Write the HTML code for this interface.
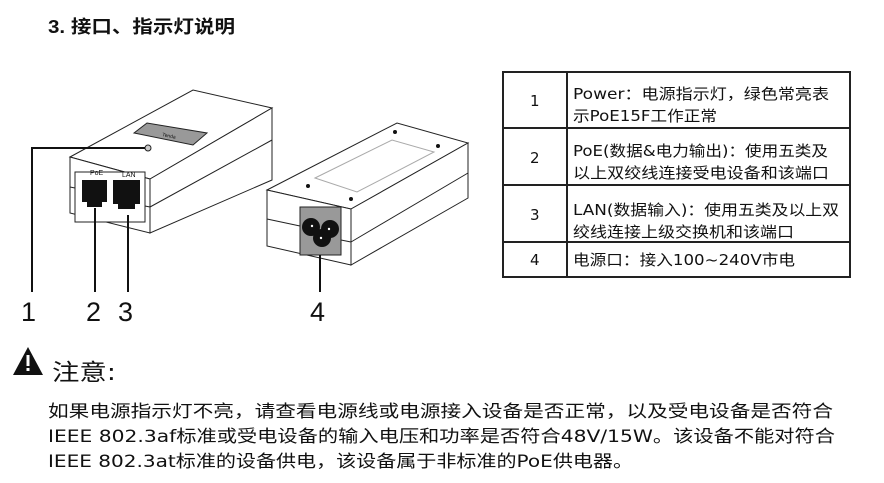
<!DOCTYPE html>
<html><head><meta charset="utf-8"><style>
html,body{margin:0;padding:0;background:#fff;}
svg{display:block;}
text{font-family:"Liberation Sans","Noto Sans CJK SC",sans-serif;fill:#111;}
.t{font-family:"DejaVu Sans","Noto Sans CJK SC",sans-serif;}
</style></head><body>
<svg width="884" height="483" viewBox="0 0 884 483" xmlns="http://www.w3.org/2000/svg">
<text x="48" y="33" font-size="18" font-weight="bold" textLength="187" lengthAdjust="spacingAndGlyphs">3. 接口、指示灯说明</text>

<!-- left device -->
<g fill="#fff" stroke="#222" stroke-width="1">
<polygon points="70,157 193,90 272,108 150,179"/>
<polygon points="150,179 272,108 272,180 150,233"/>
<polygon points="70,157 150,179 150,233 70,213"/>
<line x1="150" y1="207" x2="272" y2="140"/>
<line x1="70" y1="187" x2="75" y2="188"/>
<line x1="145" y1="206" x2="150" y2="207"/>
<rect x="75" y="172" width="70" height="50"/>
<polygon points="134,133 147,123 207,133 193,145" fill="#999"/>
<circle cx="148" cy="148" r="3" fill="#ccc"/>
</g>
<path d="M82,180 h25 v22 h-5 v5 h-15 v-5 h-5z" fill="#111"/>
<path d="M113,180 h27 v24 h-5 v5 h-17 v-5 h-5z" fill="#111"/>
<text x="90" y="175" font-size="7" fill="#333">PoE</text>
<text x="122" y="177" font-size="7" fill="#333">LAN</text>
<text x="162" y="136" font-size="5" fill="#222" transform="rotate(12 162 136)">Tenda</text>

<!-- right device -->
<g fill="#fff" stroke="#222" stroke-width="1">
<polygon points="267,190 397,123 468,143 351,209"/>
<polygon points="351,209 468,143 468,198 351,265"/>
<polygon points="267,190 351,209 351,265 267,246"/>
<line x1="267" y1="219" x2="300" y2="226"/>
<line x1="341" y1="240" x2="351" y2="242"/>
<line x1="351" y1="242" x2="468" y2="173"/>
<polygon points="315,178 392,140 434,152 357,192" stroke="#aaa"/>
<rect x="300" y="207" width="41" height="48" fill="#999"/>
</g>
<g fill="#111"><circle cx="395" cy="132" r="2"/><circle cx="438" cy="146" r="2"/><circle cx="308" cy="186" r="2"/><circle cx="351" cy="199" r="2"/>
<circle cx="311" cy="227" r="9"/><circle cx="330" cy="229" r="9"/><circle cx="322" cy="238" r="9"/></g>
<g fill="#fff"><circle cx="312" cy="226" r="1.2"/><circle cx="329" cy="229" r="1.2"/><circle cx="321" cy="238" r="1.2"/></g>

<!-- leaders -->
<g stroke="#111" stroke-width="2" fill="none">
<polyline points="145,148 32,148 32,292"/>
<line x1="95" y1="208" x2="95" y2="292"/>
<line x1="128" y1="215" x2="128" y2="292"/>
<line x1="320" y1="255" x2="320" y2="292"/>
</g>
<g font-size="27" fill="#111">
<text x="21" y="321">1</text><text x="86" y="321">2</text><text x="118" y="321">3</text><text x="310" y="321">4</text>
</g>

<!-- table -->
<g stroke="#222" stroke-width="2" fill="none">
<rect x="503" y="72" width="347" height="205"/>
<line x1="567" y1="72" x2="567" y2="277"/>
<line x1="503" y1="128" x2="850" y2="128"/>
<line x1="503" y1="185" x2="850" y2="185"/>
<line x1="503" y1="242" x2="850" y2="242"/>
</g>
<g class="t" font-size="15">
<text class="t" x="530" y="106">1</text>
<text class="t" x="530" y="163">2</text>
<text class="t" x="530" y="220">3</text>
<text class="t" x="530" y="265">4</text>
<text class="t" x="573" y="99" textLength="256" lengthAdjust="spacingAndGlyphs">Power：电源指示灯，绿色常亮表</text>
<text class="t" x="573" y="121" textLength="144" lengthAdjust="spacingAndGlyphs">示PoE15F工作正常</text>
<text class="t" x="573" y="156" textLength="255" lengthAdjust="spacingAndGlyphs">PoE(数据&amp;电力输出)：使用五类及</text>
<text class="t" x="573" y="178" textLength="256" lengthAdjust="spacingAndGlyphs">以上双绞线连接受电设备和该端口</text>
<text class="t" x="573" y="215" textLength="266" lengthAdjust="spacingAndGlyphs">LAN(数据输入)：使用五类及以上双</text>
<text class="t" x="573" y="237" textLength="221" lengthAdjust="spacingAndGlyphs">绞线连接上级交换机和该端口</text>
<text class="t" x="573" y="265" textLength="222" lengthAdjust="spacingAndGlyphs">电源口：接入100~240V市电</text>
</g>

<!-- note -->
<polygon points="28,347 43,375 13,375" fill="#111"/>
<rect x="26.5" y="355" width="3" height="11" fill="#fff"/>
<rect x="26.5" y="368" width="3" height="3" fill="#fff"/>
<text class="t" x="52" y="380" font-size="23" textLength="64" lengthAdjust="spacingAndGlyphs">注意:</text>
<g font-size="17">
<text class="t" x="48" y="417" textLength="785" lengthAdjust="spacingAndGlyphs">如果电源指示灯不亮，请查看电源线或电源接入设备是否正常，以及受电设备是否符合</text>
<text class="t" x="48" y="442" textLength="787" lengthAdjust="spacingAndGlyphs">IEEE 802.3af标准或受电设备的输入电压和功率是否符合48V/15W。该设备不能对符合</text>
<text class="t" x="48" y="467" textLength="585" lengthAdjust="spacingAndGlyphs">IEEE 802.3at标准的设备供电，该设备属于非标准的PoE供电器。</text>
</g>
</svg>
</body></html>
